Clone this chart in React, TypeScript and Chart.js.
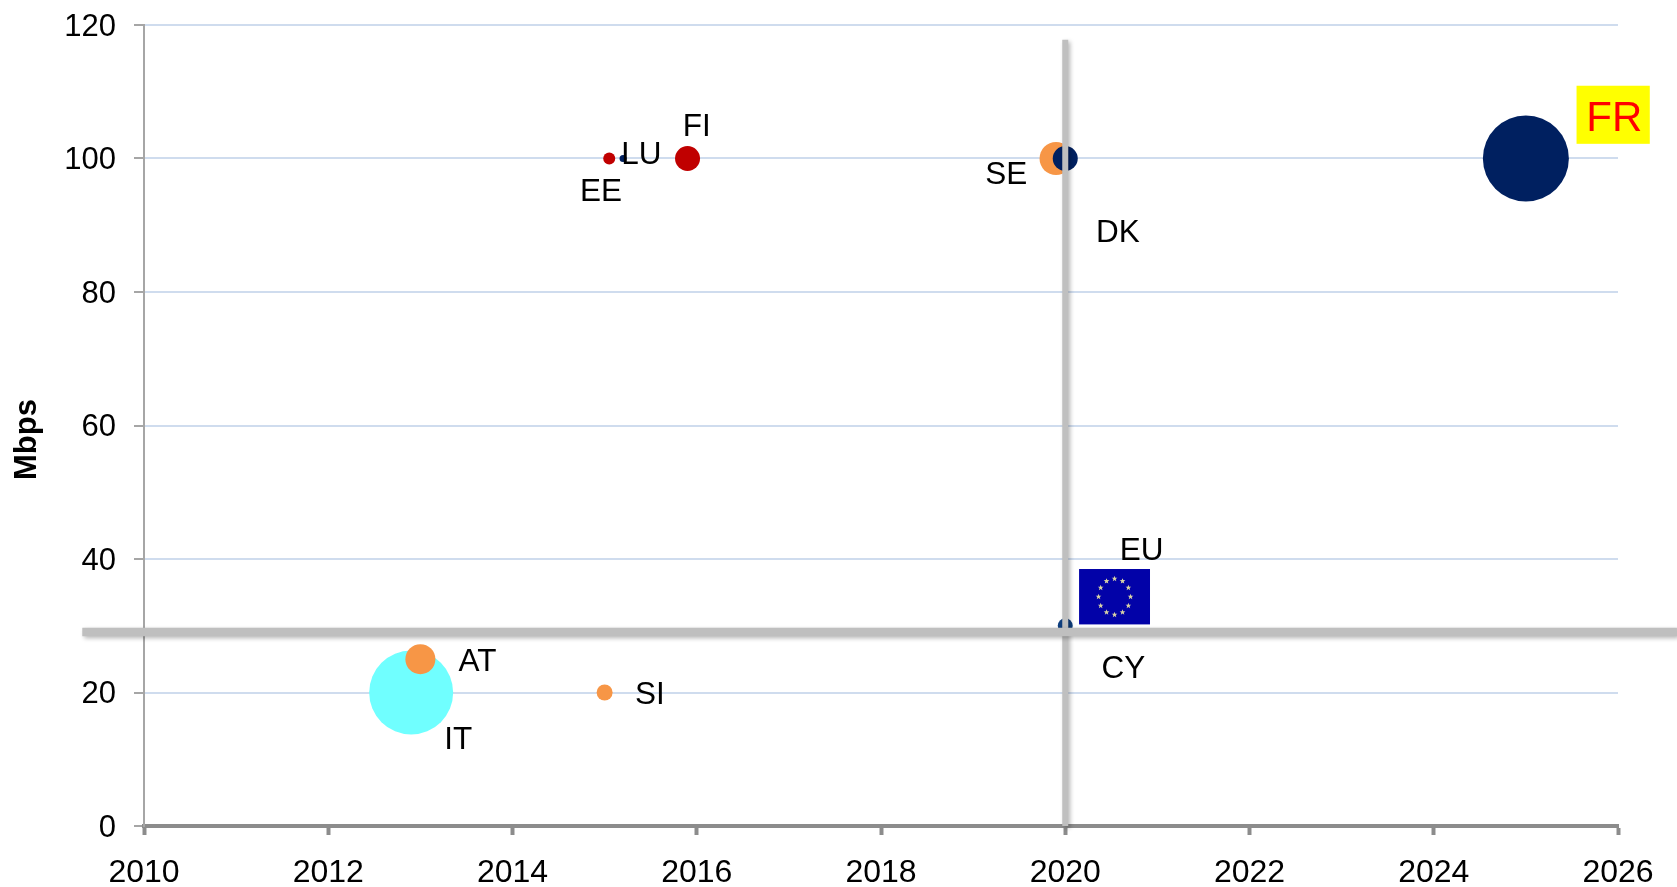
import React, { useEffect, useRef } from "react";
import { Chart, registerables } from "chart.js";

Chart.register(...registerables);

const countries = ["IT", "AT", "SI", "EE", "LU", "FI", "SE", "DK", "CY", "FR"];
const years = [2012.9, 2013, 2015, 2015.05, 2015.2, 2015.9, 2019.9, 2020, 2020, 2025];
const speeds = [20, 25, 20, 100, 100, 100, 100, 100, 30, 100];
const radii = [42, 15, 8, 6, 3.5, 12.5, 16.5, 12.5, 7.5, 43];
const colours = ["#70ffff", "#f79646", "#f79646", "#c00000", "#002060", "#c00000", "#f79646", "#002060", "#0f3f7f", "#002060"];

const labelTexts = ["FI", "LU", "EE", "SE", "DK", "EU", "CY", "AT", "SI", "IT"];
const labelX = [2016.0, 2015.4, 2014.96, 2019.36, 2020.57, 2020.83, 2020.63, 2013.62, 2015.49, 2013.41];
const labelY = [104.6, 100.5, 95.0, 97.5, 88.8, 41.2, 23.5, 24.5, 19.6, 12.8];

const targetLineYear = [2020, 2020];
const targetLineYearSpan = [0, 117.8];
const targetLineSpeed = [29.05, 29.05];
const targetLineSpeedSpan = [2009.33, 2026.64];

const frBox = { x0: 2025.55, x1: 2026.345, y0: 110.9, y1: 102.2 };
const frLabel = { text: "FR", x: 2025.96, y: 105.9 };
const flagBox = { x0: 2020.15, x1: 2020.92, y0: 38.5, y1: 30.2 };
const axisTitle = { text: "Mbps", y: 57.9 };

const FONT = '"Liberation Sans", Arial, sans-serif';

function star(ctx: CanvasRenderingContext2D, cx: number, cy: number, r: number) {
  ctx.beginPath();
  for (let i = 0; i < 10; i++) {
    const rr = i % 2 === 0 ? r : r * 0.42;
    const a = -Math.PI / 2 + (i * Math.PI) / 5;
    const px = cx + rr * Math.cos(a);
    const py = cy + rr * Math.sin(a);
    if (i === 0) ctx.moveTo(px, py);
    else ctx.lineTo(px, py);
  }
  ctx.closePath();
  ctx.fill();
}

const overlay = {
  id: "overlay",
  beforeDraw(chart: any) {
    // Liberation Sans sits a little high on a "middle" baseline: nudge the y tick labels once.
    const sy = chart.scales.y;
    if (!sy.$nudged) {
      sy.getLabelItems().forEach((item: any) => {
        item.options.translation[1] += 2;
      });
      sy.$nudged = true;
    }
  },
  beforeDatasetDraw(chart: any, args: any) {
    if (args.meta.type === "line") {
      const c = chart.ctx;
      c.save();
      c.shadowColor = "rgba(0,0,0,0.28)";
      c.shadowBlur = 4;
      c.shadowOffsetX = 2;
      c.shadowOffsetY = 2;
    }
  },
  afterDatasetDraw(chart: any, args: any) {
    if (args.meta.type === "line") chart.ctx.restore();
  },
  afterDraw(chart: any) {
    const c: CanvasRenderingContext2D = chart.ctx;
    const sx = chart.scales.x;
    const sy = chart.scales.y;
    c.save();

    // EU flag
    const fx0 = sx.getPixelForValue(flagBox.x0);
    const fx1 = sx.getPixelForValue(flagBox.x1);
    const fy0 = sy.getPixelForValue(flagBox.y0);
    const fy1 = sy.getPixelForValue(flagBox.y1);
    c.fillStyle = "#0202a8";
    c.fillRect(fx0, fy0, fx1 - fx0, fy1 - fy0);
    const cx = (fx0 + fx1) / 2;
    const cy = (fy0 + fy1) / 2;
    c.fillStyle = "#d9d3a5";
    for (let i = 0; i < 12; i++) {
      const a = (i * Math.PI) / 6;
      star(c, cx + 16 * Math.cos(a), cy + 18 * Math.sin(a), 3);
    }

    // labels
    c.fillStyle = "#000000";
    c.font = `31.5px ${FONT}`;
    c.textAlign = "center";
    c.textBaseline = "middle";
    labelTexts.forEach((t, i) => {
      c.fillText(t, sx.getPixelForValue(labelX[i]), sy.getPixelForValue(labelY[i]));
    });

    // FR label box
    const bx0 = sx.getPixelForValue(frBox.x0);
    const bx1 = sx.getPixelForValue(frBox.x1);
    const by0 = sy.getPixelForValue(frBox.y0);
    const by1 = sy.getPixelForValue(frBox.y1);
    c.fillStyle = "#ffff00";
    c.fillRect(bx0, by0, bx1 - bx0, by1 - by0);
    c.fillStyle = "#ff0000";
    c.font = `42px ${FONT}`;
    c.fillText(frLabel.text, sx.getPixelForValue(frLabel.x), sy.getPixelForValue(frLabel.y));

    // axis title
    c.translate(27, sy.getPixelForValue(axisTitle.y));
    c.rotate(-Math.PI / 2);
    c.fillStyle = "#000000";
    c.font = `bold 31px ${FONT}`;
    c.fillText(axisTitle.text, 0, 0);
    c.restore();
  },
};

export default function App() {
  const ref = useRef<HTMLCanvasElement>(null);
  useEffect(() => {
    const chart = new Chart(ref.current!, {
      type: "bubble",
      plugins: [overlay],
      data: {
        datasets: [
          {
            type: "line",
            order: 0,
            data: targetLineSpeedSpan.map((x, i) => ({ x, y: targetLineSpeed[i] })),
            borderColor: "#bfbfbf",
            borderWidth: 8.5,
            pointRadius: 0,
            clip: false,
          },
          {
            type: "line",
            order: 1,
            data: targetLineYearSpan.map((y, i) => ({ x: targetLineYear[i], y })),
            borderColor: "#bfbfbf",
            borderWidth: 6,
            pointRadius: 0,
            clip: false,
          },
          {
            type: "bubble",
            order: 2,
            label: "Countries",
            data: countries.map((_, i) => ({ x: years[i], y: speeds[i], r: radii[i] })),
            backgroundColor: colours,
            borderWidth: 0,
            clip: false,
          },
        ] as any,
      },
      options: {
        animation: false,
        responsive: false,
        events: [],
        layout: { autoPadding: false, padding: { top: 25, right: 59, bottom: 0, left: 0 } },
        plugins: { legend: { display: false }, tooltip: { enabled: false } },
        scales: {
          x: {
            type: "linear",
            min: 2010,
            max: 2026,
            afterFit: (s: any) => {
              s.height = 61;
              s.paddingLeft = 0;
              s.paddingRight = 0;
            },
            grid: {
              drawOnChartArea: false,
              drawTicks: true,
              tickLength: 9,
              tickColor: "#8c8c8c",
              tickWidth: 4,
            },
            border: { color: "#8c8c8c", width: 4 },
            ticks: {
              stepSize: 2,
              autoSkip: false,
              maxRotation: 0,
              padding: 19,
              color: "#000000",
              font: { family: FONT, size: 32 },
              callback: (v: any) => String(v),
            },
          },
          y: {
            type: "linear",
            min: 0,
            max: 120,
            afterFit: (s: any) => {
              s.width = 144;
              s.paddingTop = 0;
              s.paddingBottom = 0;
            },
            grid: {
              color: (ctx: any) => (ctx.tick && ctx.tick.value === 0 ? "rgba(0,0,0,0)" : "#cfdcee"),
              lineWidth: 2,
              tickLength: 10,
              tickColor: "#a6a6a6",
              tickWidth: 2,
            },
            border: { color: "#a6a6a6", width: 2 },
            ticks: {
              stepSize: 20,
              padding: 18,
              color: "#000000",
              font: { family: FONT, size: 31 },
            },
          },
        },
      },
    } as any);
    return () => chart.destroy();
  }, []);
  return (
    <div style={{ position: "fixed", left: 0, top: 0, width: 1677, height: 887, background: "#ffffff" }}>
      <canvas ref={ref} width={1677} height={887} style={{ display: "block" }} />
    </div>
  );
}
